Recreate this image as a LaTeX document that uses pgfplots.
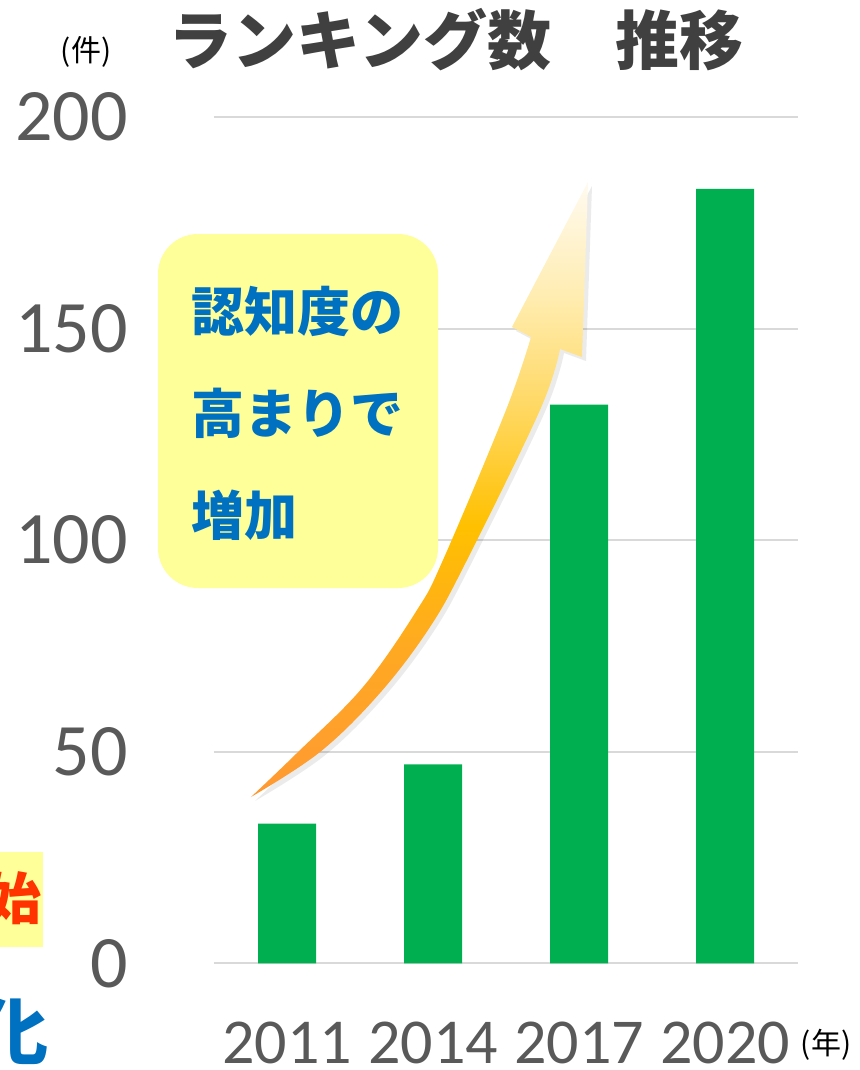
\documentclass[border=0pt]{standalone}
\usepackage{fontspec}
\setmainfont{Carlito}
\newfontfamily\jp{Noto Sans CJK JP}
\usepackage{pgfplots}
\pgfplotsset{compat=1.18}
\definecolor{bargreen}{HTML}{00B050}
\definecolor{gridgray}{HTML}{D9D9D9}
\definecolor{ticktext}{HTML}{595959}
\definecolor{titletext}{HTML}{404040}
\definecolor{calloutyellow}{HTML}{FFFF99}
\definecolor{textblue}{HTML}{0070C0}
\definecolor{textred}{HTML}{FF3300}
\definecolor{aA}{HTML}{FF9933}
\definecolor{aB}{HTML}{FFA922}
\definecolor{aC}{HTML}{FFC000}
\definecolor{aD}{HTML}{FFD966}
\definecolor{aE}{HTML}{FFEDB3}
\definecolor{aF}{HTML}{FFFAF0}
\pgfdeclareverticalshading{arrowshade}{100bp}{color(0bp)=(aA); color(25bp)=(aA); color(37bp)=(aB); color(47bp)=(aC); color(57bp)=(aD); color(66bp)=(aE); color(75bp)=(aF); color(100bp)=(aF)}
\begin{document}
\begin{tikzpicture}[x=0.5pt,y=-0.5pt]
\useasboundingbox (0,0) rectangle (860,1070);
\clip (0,0) rectangle (860,1070);
\begin{axis}[
  at={(107pt,-481.65pt)}, anchor=south west,
  scale only axis, width=292pt, height=423.2pt,
  xmin=-0.5, xmax=3.5, ymin=0, ymax=200,
  axis line style={draw=none},
  major tick length=0pt,
  ytick={0,50,100,150,200},
  xtick={0,1,2,3},
  xticklabels={2011,2014,2017,2020},
  ymajorgrids,
  grid style={gridgray, line width=1pt},
  /pgf/number format/assume math mode=true,
  yticklabel style={font=\fontsize{37}{40}\selectfont, text=ticktext, anchor=east, inner sep=0pt, xshift=-43pt},
  xticklabel style={font=\fontsize{32}{34}\selectfont, text=ticktext, anchor=north, inner sep=0pt, yshift=-29pt},
]
\addplot[ybar, bar width=29pt, fill=bargreen, draw=none] coordinates {(0,33) (1,47) (2,132) (3,183)};
\end{axis}
% left-edge fragments
\fill[calloutyellow] (0,852) rectangle (43,947);
\node[font=\jp\bfseries\fontsize{28}{30}\selectfont, text=textred] at (14,898) {始};
\node[font=\jp\bfseries\fontsize{36}{38}\selectfont, text=textblue] at (12,1031) {化};
% title and units
\node[font=\jp\bfseries\fontsize{32}{36}\selectfont, text=titletext] at (456,40) {ランキング数　推移};
\node[font=\jp\fontsize{15}{17}\selectfont] at (86,52) {(件)};
\node[font=\jp\fontsize{15}{17}\selectfont] at (826,1045) {(年)};
% arrow shadow
\fill[black, opacity=0.08, shift={(4,4)}] plot[smooth, tension=0.6] coordinates {(251,797) (297,753) (363,687) (417,610) (443,560) (506,410) (531,337)} -- (512,327) -- (588,182) -- (582,357) -- (560,349) -- plot[smooth, tension=0.6] coordinates {(560,349) (540,410) (467,560) (430,627) (380,693) (320,752) (251,797)} -- cycle;
% arrow
\shade[shading=arrowshade] plot[smooth, tension=0.6] coordinates {(251,797) (297,753) (363,687) (417,610) (443,560) (506,410) (531,337)} -- (512,327) -- (588,182) -- (582,357) -- (560,349) -- plot[smooth, tension=0.6] coordinates {(560,349) (540,410) (467,560) (430,627) (380,693) (320,752) (251,797)} -- cycle;
% callout
\fill[calloutyellow, rounded corners=20pt] (158,234) rectangle (438,588);
\node[font=\jp\bfseries\fontsize{26.5}{28}\selectfont, text=textblue, anchor=west, inner sep=0pt] at (191,311) {認知度の};
\node[font=\jp\bfseries\fontsize{26.5}{28}\selectfont, text=textblue, anchor=west, inner sep=0pt] at (191,413) {高まりで};
\node[font=\jp\bfseries\fontsize{26.5}{28}\selectfont, text=textblue, anchor=west, inner sep=0pt] at (191,515) {増加};
\end{tikzpicture}
\end{document}
